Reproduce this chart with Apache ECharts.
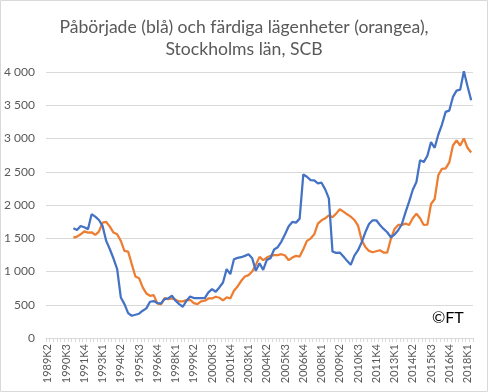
<!DOCTYPE html>
<html><head><meta charset="utf-8">
<script src="https://cdn.jsdelivr.net/npm/echarts@6/dist/echarts.min.js"></script>
<style>html,body{margin:0;padding:0;background:#fff}#c{width:488px;height:392px}</style>
</head><body><div id="c"></div>
<script>
// Quarterly categories 1989K2 .. 2018K2
var startYear = 1989, startQuarter = 2, nCategories = 117;
var categories = [];
(function(){ var y = startYear, q = startQuarter;
  for (var i = 0; i < nCategories; i++) { categories.push(y + 'K' + q); q++; if (q > 4) { q = 1; y++; } } })();

var firstDataIndex = 7; // 1991K1
var startedValues = [1650,1625,1685,1665,1635,1860,1825,1775,1685,1460,1335,1195,1035,610,510,375,335,350,365,410,
  445,545,555,525,520,585,595,635,560,510,470,560,625,600,600,600,600,685,735,695,
  760,835,1035,960,1185,1205,1215,1235,1260,1200,1010,1125,1025,1175,1200,1330,1365,1450,1560,1680,
  1745,1735,1795,2460,2425,2375,2370,2325,2335,2235,2100,1300,1280,1285,1225,1160,1100,1240,1320,1440,
  1590,1715,1770,1770,1700,1640,1590,1515,1555,1620,1710,1890,2050,2230,2345,2675,2645,2740,2945,2860,
  3060,3210,3400,3420,3625,3720,3735,4010,3785,3575];
var completedValues = [1510,1525,1560,1605,1585,1590,1550,1600,1735,1745,1675,1585,1560,1460,1310,1300,1110,925,900,760,
  670,635,645,520,505,600,585,595,575,550,550,570,575,525,510,550,560,595,595,620,
  605,565,610,595,710,775,860,925,945,1000,1100,1220,1170,1210,1235,1245,1245,1260,1240,1170,
  1210,1235,1225,1335,1460,1495,1560,1720,1770,1800,1845,1815,1870,1935,1900,1860,1825,1775,1690,1470,
  1370,1310,1290,1305,1320,1285,1285,1490,1640,1700,1700,1720,1700,1800,1870,1800,1700,1705,2015,2090,
  2450,2545,2550,2640,2895,2970,2895,3000,2860,2790];
var yTicks = [0,500,1000,1500,2000,2500,3000,3500,4000];

function pad(vals){ var a = []; for (var i=0;i<firstDataIndex;i++) a.push(null); return a.concat(vals); }

var chart = echarts.init(document.getElementById('c'), null, {renderer:'canvas'});
var grey = '#595959', gridC = '#d9d9d9', font = 'Lato, "Open Sans", sans-serif';
chart.setOption({
  animation:false,
  backgroundColor:'#fff',
  title:{ text:'Påbörjade (blå) och färdiga lägenheter (orangea),\nStockholms län, SCB', left:'center', top:11,
    textStyle:{ color:grey, fontSize:17.6, fontWeight:'normal', fontFamily:font, lineHeight:22 } },
  grid:{ left:46, right:15, top:72, bottom:54 },
  xAxis:{ type:'category', data:categories, boundaryGap:true,
    axisLine:{ lineStyle:{ color:gridC, width:1 } },
    axisTick:{ show:true, interval:0, length:4, lineStyle:{ color:gridC } },
    axisLabel:{ interval:4, rotate:90, fontSize:11, color:grey, fontFamily:font, margin:6 },
    splitLine:{ show:false } },
  yAxis:{ type:'value', min:yTicks[0], max:yTicks[yTicks.length-1], interval:500,
    axisLine:{ show:false }, axisTick:{ show:false },
    axisLabel:{ fontSize:12, color:grey, fontFamily:font, margin:11,
      formatter:function(v){ return String(v).replace(/\B(?=(\d{3})+(?!\d))/g,' '); } },
    splitLine:{ lineStyle:{ color:gridC, width:1 } } },
  series:[
    { type:'line', data:pad(startedValues), showSymbol:false, symbol:'none', connectNulls:false,
      lineStyle:{ color:'#4472C4', width:2.25 }, itemStyle:{ color:'#4472C4' }, z:3 },
    { type:'line', data:pad(completedValues), showSymbol:false, symbol:'none',
      lineStyle:{ color:'#ED7D31', width:2.25 }, itemStyle:{ color:'#ED7D31' }, z:2 }
  ],
  graphic:[
    { type:'rect', shape:{ x:0.5, y:0.5, width:487, height:391 }, style:{ fill:'none', stroke:'#d9d9d9', lineWidth:1 }, z:-1, silent:true },
    { type:'text', left:432, top:310, style:{ text:'©FT', fill:'#000', fontSize:16, fontFamily:font } }
  ]
});
</script></body></html>
